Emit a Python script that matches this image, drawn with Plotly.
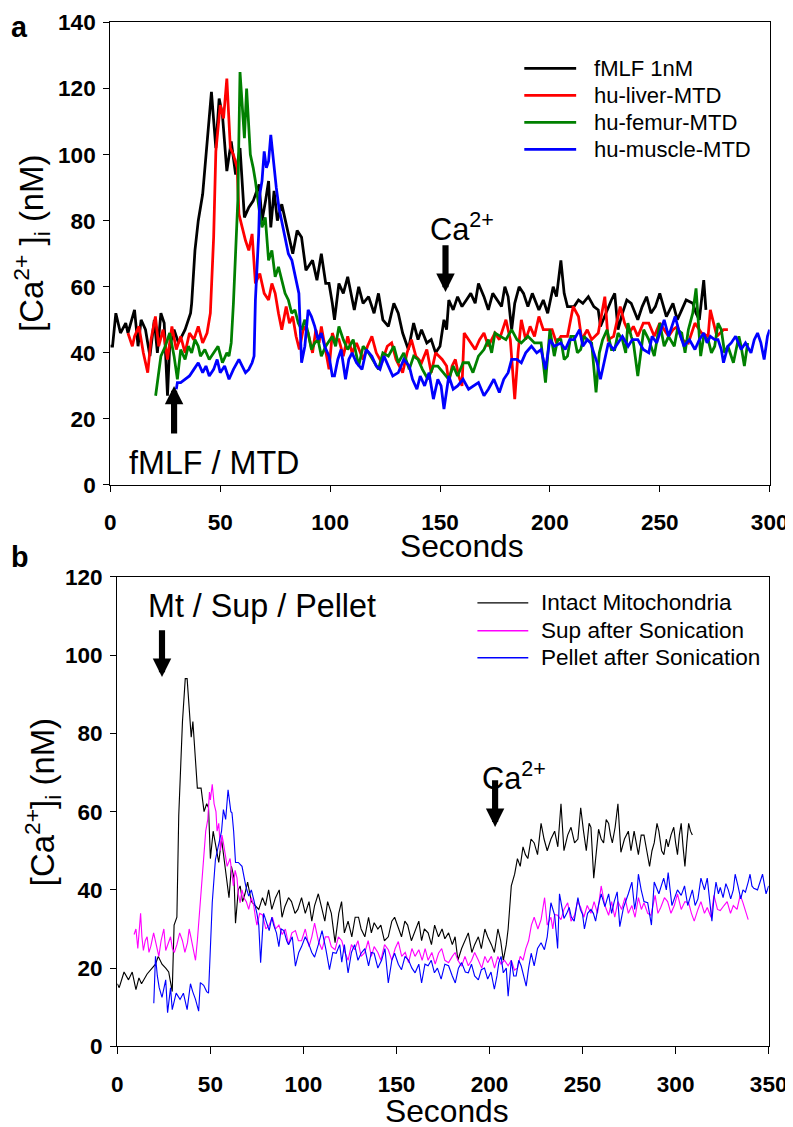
import plotly.graph_objects as go

# Figure size and mapping from target picture pixels to figure pixels
W, H = 820, 1132
AX, BX = 0.972, 11.4
AY, BY = 0.979, 19.5
K = 1 / 0.975  # size compensation for the picture scale
FONT = "Liberation Sans, Arial, sans-serif"

def px(s):
    return ((s - BX) / AX) / W

def py(s):
    return 1 - ((s - BY) / AY) / H

# ---------------- Panel a data (seconds, nM) ----------------
fmlf_t = [0, 1, 2.5, 4.6, 7, 8, 11, 12.6, 14, 16, 18, 20, 21.4, 23, 24.5, 26, 27, 29, 31, 34, 36.5, 37, 38.5, 40, 42, 44, 46, 48, 49.5, 51, 53, 55, 57, 59, 61, 63, 65, 67.7, 69, 70.6, 72, 73, 74.5, 76, 78, 79, 81, 83, 85, 87, 89, 92, 94, 96, 98, 99.5, 101, 102, 104, 106, 108, 111, 113, 115, 117.5, 120, 122, 124, 126.5, 129, 131, 133, 135.6, 138, 140, 141.6, 144, 146, 148, 150, 151.8, 153, 154, 156, 158, 160, 162, 164, 166, 167.5, 170, 172, 174, 176, 178, 179.5, 181, 182.6, 184, 186, 188, 190, 192, 195, 197, 199, 201.5, 203, 205, 206.5, 208, 211, 213, 215, 217.5, 220, 222, 223, 226, 228, 229.5, 231, 233, 235, 237, 240, 242, 244, 246, 248, 250, 253, 256, 258, 260, 262, 265, 266.5, 268, 270, 271]
fmlf_v = [42, 42, 52, 46, 49, 46, 53, 42, 50, 47, 39, 50, 40, 52, 49, 27, 42, 47, 43, 47, 52, 55, 71, 80, 88, 104, 119, 102, 117, 112, 95, 104, 94, 102, 81, 84, 86, 91, 80, 86, 92, 78, 89, 80, 85, 82, 76, 70, 77, 75, 65, 68, 62, 70, 61, 61, 55, 50, 61, 58, 63, 53, 60, 55, 57, 52, 58, 50, 48, 55, 52, 46, 41, 49, 44, 47, 43, 44, 40, 42, 50, 47, 56, 53, 57, 54, 56, 58, 55, 61, 57, 53, 58, 56, 54, 60, 57, 47, 55, 60, 58, 54, 58, 53, 56, 52, 60, 57, 68, 58, 54, 54, 56, 55, 57, 54, 53, 48, 53, 56, 58, 47, 52, 56, 55, 50, 54, 57, 52, 54, 58, 51, 55, 50, 53, 56, 55, 52, 50, 62, 53]

liver_t = [8, 10, 11, 13, 15, 17, 18.5, 20.5, 22, 24, 26, 28, 30, 32, 34, 36, 38, 40, 42, 44, 45.5, 47, 48, 50, 51.5, 53, 54.6, 56, 57.7, 58.5, 60, 61.5, 63, 64.5, 66, 68, 70, 72, 73.5, 75, 76.5, 78, 80, 81.5, 83, 84.5, 86, 88, 90, 92, 93.5, 95, 96, 97.5, 99.5, 101, 102, 104, 106, 108, 110, 112, 115, 117, 119, 121, 123.5, 126, 128, 130, 133, 135, 137, 139, 141.6, 144, 146, 148, 151, 153, 154, 155.5, 157, 158.5, 160, 161, 163, 166, 168, 170, 172, 175, 177, 180, 182, 184, 185.5, 187, 189, 191, 193, 195, 197, 199, 201, 203, 205, 208, 210.6, 213, 214.5, 217, 219, 222, 225, 226.5, 229, 232, 234, 236, 238, 240, 242.5, 245, 247.5, 250, 252, 254, 256, 258, 260, 263, 266, 269, 272, 273, 276, 279, 281]
liver_v = [46, 42, 45, 48, 40, 34, 44, 51, 42, 47, 38, 48, 41, 45, 40, 46, 44, 48, 43, 46, 52, 75, 101, 115, 111, 123, 102, 100, 96, 82, 78, 74, 71, 76, 61, 64, 58, 56, 61, 58, 52, 47, 54, 49, 51, 45, 41, 48, 46, 40, 47, 43, 48, 42, 35, 46, 44, 44, 39, 45, 40, 43, 38, 42, 45, 40, 37, 42, 43, 38, 34, 40, 44, 39, 37, 41, 34, 40, 38, 36, 31, 36, 38, 33, 30, 46, 44, 41, 44, 46, 42, 46, 44, 50, 44, 26, 40, 50, 44, 48, 45, 51, 47, 47, 47, 43, 45, 45, 54, 51, 44, 47, 44, 46, 57, 44, 45, 54, 49, 46, 48, 45, 49, 49, 45, 49, 47, 45, 47, 48, 44, 43, 49, 46, 45, 53, 45, 47, 47]

femur_t = [20.6, 22, 23, 25, 27, 29, 30.5, 32, 34, 35.5, 37, 38.5, 40, 41, 43, 45, 47, 49, 51, 53, 54, 55, 56, 57, 58, 59, 61, 62, 63.7, 65, 66, 68, 69, 70.5, 72, 73.5, 75, 76.5, 78, 79.5, 81, 82.5, 84, 85.5, 87, 88.5, 90, 91.5, 93, 94.5, 96, 98, 101, 102.5, 104, 106, 108, 110.5, 113, 115, 117.5, 120, 122, 124, 126.5, 129, 131, 133.5, 136, 138, 140, 142, 144.5, 147, 149, 151.5, 154, 156, 158, 160.5, 163, 165, 167.5, 170, 172, 173.5, 175, 177.5, 180, 182.6, 185, 187, 190, 193, 196, 198, 200, 202, 203.5, 205, 206.5, 208, 209.5, 211, 212.5, 214, 215.5, 217, 219, 221, 222.5, 224, 226, 228, 229.5, 231, 233, 234.5, 235.5, 237, 238, 240, 242.7, 245, 247.5, 250, 252, 254, 256.6, 258, 260, 261.5, 263, 265, 266.5, 268.6, 270, 272, 273.5, 275, 276.5, 278, 279.5, 281, 283.5, 286, 287, 288.5, 290]
femur_v = [27, 35, 39, 42, 46, 39, 32, 41, 38, 42, 40, 44, 42, 39, 41, 38, 40, 42, 37, 40, 39, 43, 55, 70, 86, 125, 105, 120, 100, 96, 92, 82, 78, 81, 68, 71, 63, 66, 62, 58, 56, 52, 53, 49, 47, 50, 46, 41, 43, 44, 39, 42, 45, 42, 48, 44, 41, 44, 36, 42, 40, 37, 35, 40, 39, 42, 37, 40, 35, 39, 38, 35, 32, 36, 36, 34, 32, 36, 33, 37, 37, 34, 39, 41, 44, 40, 46, 45, 44, 47, 44, 43, 45, 43, 43, 31, 47, 39, 44, 44, 38, 39, 45, 45, 40, 41, 45, 44, 43, 28, 40, 44, 47, 41, 41, 46, 44, 40, 49, 45, 43, 33, 47, 44, 39, 49, 42, 45, 42, 47, 46, 40, 47, 52, 59.5, 39, 45, 44, 40, 42, 49, 47, 40, 42, 37, 45, 42, 36, 43]

muscle_t = [30, 30.5, 32, 34, 36, 38, 40, 42, 43.5, 45, 47, 48.6, 50, 52, 54, 56, 58.5, 60, 61.5, 63, 64.5, 65.4, 66, 67.5, 68, 69, 70, 71, 72, 73, 74.5, 75.5, 76.7, 78, 79.7, 81, 82.6, 84, 85.8, 87, 88.5, 90, 91.5, 93, 94.5, 96, 97.5, 99.5, 101, 102, 103.5, 105, 107, 108.5, 110, 112, 114.5, 116.5, 119, 121, 122.7, 124.5, 126.5, 128.5, 131, 133.5, 136, 137.5, 139.5, 141, 143, 145, 147, 149, 150.5, 151.8, 154, 156, 158, 160.5, 163, 165, 167.5, 170, 172, 174.5, 177, 179, 181, 182.6, 185, 187, 189, 191.6, 194, 196, 198, 200, 202, 205, 207, 209, 211, 213.5, 215, 217, 218.5, 220, 221.5, 223, 225, 226.6, 229, 231, 233, 235.6, 237.5, 240, 242.5, 245, 246.5, 248.6, 250.5, 252, 254, 255.5, 257, 259, 261, 263.5, 266, 268, 270, 271.5, 273, 275, 276.5, 278, 279, 281, 282.5, 284.5, 287, 289, 291.5, 293, 294.5, 296, 297.5, 299, 300]
muscle_v = [29, 31, 31, 32, 33, 35, 37, 34, 36, 33, 35, 38, 34, 36, 32, 35, 38, 36, 34, 35, 37, 39, 56, 76, 88, 92, 101, 96, 98, 106, 96, 90, 84, 80, 74, 70, 68, 64, 58, 37, 42, 53, 51, 48, 44, 46, 42, 39, 33, 33, 38, 41, 32, 38, 40, 37, 35, 41, 39, 36, 35, 39, 36, 33, 34, 38, 36, 32, 29, 33, 30, 34, 26, 32, 30, 23, 33, 29, 30, 32, 29, 30, 31, 27, 29, 32, 28, 32, 34, 38, 38, 37, 40, 42, 40, 41, 35, 44, 42, 43, 41, 44, 44, 47, 42, 44, 43, 40, 37, 32, 38, 43, 41, 43, 45, 42, 44, 44, 41, 40, 45, 43, 47, 50, 45, 48, 51, 46, 42, 44, 41, 44, 46, 43, 45, 44, 44, 41, 37, 42, 43, 45, 41, 43, 40, 44, 46, 43, 38, 45, 47]

# ---------------- Panel b data (seconds, nM) ----------------
intact_t = [0, 1, 3.6, 6, 8, 10, 11.6, 13, 16, 19, 20.5, 22, 24, 26, 27.6, 29.5, 30.5, 32, 33, 35, 36.5, 37.5, 38.5, 39.7, 40.6, 42, 43, 45, 46.6, 48, 49, 50, 51.5, 53, 54.5, 56, 57, 58.5, 60, 61.3, 62.7, 63.5, 65, 66, 67.3, 68.6, 70, 72, 74, 76, 78, 79.6, 81.3, 83, 85, 87, 88.5, 90, 92, 93.6, 95.5, 97, 99, 101, 103, 104.5, 106, 108, 110, 111.5, 113, 115, 117, 119, 120.5, 122, 124, 126, 127.8, 129.6, 131, 133, 135, 136.5, 138, 140, 141.6, 143.5, 145.6, 147.5, 149, 151, 152.7, 154.5, 156, 158, 160, 162, 163.5, 165, 167, 168.8, 170.5, 172.6, 174.5, 176, 178, 180, 181.5, 183, 185, 186.8, 188.6, 190.5, 192, 194, 195.6, 197.5, 199, 201, 202.6, 204.5, 206, 207.4, 209, 210, 211.7, 213.5, 215, 216.5, 218, 219.3, 220.6, 222.3, 224, 225.8, 227.7, 229.3, 231, 233, 235, 236.7, 238.4, 240, 242, 243.8, 245.7, 247.5, 249, 250.5, 252, 253.5, 254.5, 256, 257.3, 258.6, 260, 261.3, 262.7, 264, 265, 266, 267.5, 269, 270.6, 272.5, 274.6, 276, 277.7, 279, 280, 281.5, 283, 284.5, 286, 287.3, 288.5, 290, 291, 292.5, 293.7, 295, 296, 297.5, 299, 300, 301, 302, 303, 304, 305, 306, 307, 308, 309]
intact_v = [16, 15, 19, 17, 19, 14.5, 17.5, 16, 18.5, 20, 21, 23, 21, 20, 19, 14, 31, 33, 59, 83, 94, 94, 88, 79, 83, 72, 66, 66, 60, 62, 61, 48, 55, 51, 47, 53, 49, 44, 38, 46, 43, 31.5, 40, 41, 37, 39, 42, 37, 36, 35, 38, 36, 40, 35, 38, 40, 33, 35.7, 38, 37, 34, 35, 38, 34, 37, 32, 36, 39, 35, 32, 37, 34, 26.5, 34, 37, 29, 32, 28, 33, 33, 30, 28, 33, 29, 31.6, 30, 31, 27, 28, 32, 33, 30, 28, 32, 31, 27, 29.6, 32, 27, 30, 29, 26, 31, 28, 30, 27.5, 29, 26, 28, 22, 25, 27, 29, 24, 26, 28, 25, 30, 28, 26, 24, 30, 27, 22, 26, 30, 41, 44, 48, 46, 51, 49, 48, 53, 52, 49, 57, 53, 50, 53, 55, 51, 62, 50, 54, 56, 52, 53, 61, 55, 50, 57, 56, 43, 49, 55.5, 53, 52, 58, 57, 54, 52, 56, 62, 49.6, 53, 55, 50, 55, 52, 49, 54, 54, 50, 46, 50, 52, 57, 55, 50, 49, 53, 51, 54, 56, 52, 49, 54, 57, 51, 46, 52, 57, 55, 54]

sup_t = [9, 10, 11, 12.5, 13.2, 14, 15, 16, 17, 18, 19.5, 21, 22.3, 23.5, 25, 26, 27.3, 28.6, 29.6, 30.6, 32, 33.5, 35, 36.3, 37.7, 38.6, 39.5, 40.8, 42, 43, 44.6, 46.5, 47.5, 48.6, 49.5, 50, 51, 52, 53, 53.6, 54.5, 55.4, 56.2, 57, 58, 59, 60.6, 61.5, 62.4, 63.3, 64.3, 65, 66, 67, 68, 69.3, 70.6, 72, 73.3, 74.2, 75, 76.5, 78, 79.8, 81.6, 83.3, 85, 86.8, 88.6, 90.3, 92, 93.8, 95.7, 97.3, 99, 101, 103, 104.5, 106, 108, 110, 111.8, 113.5, 115, 117, 118.8, 120.6, 122.3, 124, 125.8, 127.5, 129.3, 131, 133, 134.8, 136.5, 138, 140, 141.6, 143.6, 145.6, 147.5, 149.3, 151, 152.8, 154.7, 156.5, 158.3, 160, 162, 163.8, 165.4, 167, 169, 170.8, 172.6, 174.3, 176, 178, 180, 181.5, 183, 185, 186.8, 188.6, 190.4, 192, 194, 195.8, 197.5, 199, 201, 202.7, 204.5, 206.2, 208, 210, 211.7, 213.4, 215, 216.5, 218, 219.5, 221, 222.5, 224, 226, 227.7, 229.6, 231, 233, 234, 235, 236.6, 238.4, 240, 242, 243.8, 245.7, 247.3, 249, 250.7, 252.5, 254.5, 256.2, 258, 260, 262, 264, 265.6, 267.3, 269, 271, 272.8, 274.6, 276.5, 278.2, 280, 281.6, 283, 285, 286.7, 289, 290.5, 292, 294, 295.7, 297.5, 299.3, 301, 303, 305, 307, 308.5, 310, 312, 313.6, 315.5, 317, 319, 320.6, 322.5, 324, 326, 327.7, 329.5, 331, 333, 334.7, 336, 337, 338, 339]
sup_v = [28.6, 30, 25, 34, 28, 24.5, 27, 28, 24, 25.6, 29, 26, 23, 27, 30, 24.5, 26, 28, 25, 24, 26, 29, 27, 24, 26.5, 30, 28, 25, 22, 27, 37.5, 49.5, 55, 58, 65, 63, 67, 62, 60, 55, 57, 50, 54, 52, 49, 46, 48, 44, 41, 45, 43, 39, 36.7, 40, 38, 37, 35, 38, 36, 33, 31, 34, 33.6, 30, 31, 33, 30, 31, 28.6, 30, 26, 29, 29.6, 27, 27, 30, 25.5, 28, 31.5, 27, 24.7, 28, 28, 25.5, 24.7, 28, 27, 24, 22, 26, 24.7, 27, 23, 24, 27, 23, 25.5, 24, 22, 26, 24.7, 22, 25, 26.8, 23, 24, 21.4, 25, 23, 24.7, 22, 25, 22, 24, 21, 23.8, 25, 22, 21.4, 23, 24, 22, 20.5, 23, 20.6, 22, 24, 22, 20, 23, 21.4, 23, 20, 23, 21, 22, 20.6, 22, 19.5, 20, 23, 22, 25, 27, 31, 33, 30, 32.4, 38, 31, 33, 30, 33.7, 33.5, 32.4, 35, 36.7, 32, 33.5, 37, 35.5, 33, 36, 34, 37, 34, 41, 36, 33.5, 37, 33, 37, 35, 38, 34, 36, 33, 38, 35, 36.7, 34, 33.5, 38.6, 34, 35.5, 38, 37, 34, 36, 39, 35, 37, 36.7, 34, 32, 35, 37, 34, 35.5, 33, 38.6, 35, 34.7, 36, 37, 34, 36, 35, 38.6, 37, 35.5, 34, 32.4]

pellet_t = [19.6, 20.5, 21.5, 22.5, 24, 26, 27, 28.6, 29.5, 31.6, 33.7, 35.5, 37.5, 39.3, 40.5, 42, 43.7, 44.6, 46.4, 48, 49, 50, 51, 52.7, 54.5, 56, 57, 58.2, 59.5, 61, 61.6, 62.5, 63.5, 65, 67, 68, 69, 70.6, 72, 73.3, 75, 76, 77, 78.6, 80, 81.6, 83, 84, 85.5, 86.8, 88, 89.5, 91, 92, 94, 95.7, 97.5, 99, 101, 103, 104.5, 106, 108, 110, 112, 114, 115.8, 117.6, 119.5, 120.6, 122, 124, 125.8, 127.5, 129.3, 131, 133, 135, 136.5, 138, 140, 142, 143.8, 145.6, 147.5, 149, 151, 152.7, 154.6, 156.5, 158.3, 160, 162, 163.5, 165.3, 167, 168.7, 170.4, 172, 174, 176, 178, 180, 181.6, 183.3, 185, 187, 188.6, 190.3, 192, 194, 195.6, 197.3, 199, 200.8, 202.6, 204, 205, 206.2, 207.4, 209, 210, 211.7, 213, 214.3, 215.7, 217, 218.4, 219.7, 221, 222.4, 224, 225.8, 227.7, 229.5, 231, 233, 235, 236.6, 237.6, 239, 240, 241.5, 242.8, 244, 245.5, 247.5, 248.8, 250, 251, 252.7, 254.5, 255.8, 257, 258.5, 260, 262, 264, 265.6, 267, 268.6, 270, 272, 273.3, 274.6, 276.5, 278, 279, 280, 281.5, 283, 285, 287, 288.5, 290, 291, 292.3, 293.6, 295, 296, 298, 299.5, 301, 303, 304.8, 306.5, 307.7, 309, 310.5, 312, 313.6, 315.5, 317, 318.2, 319.5, 320.6, 321.7, 323, 324, 325.5, 327, 328.3, 329.6, 331, 332, 333.5, 335, 336.2, 337.5, 339, 340, 341, 342, 344, 345.5, 346.7, 348.6, 350]
pellet_v = [11, 23, 18, 15, 12.5, 17, 8.6, 15, 9.4, 13.6, 12, 13.6, 9.4, 16, 14, 12, 9, 16.3, 15.6, 14, 13.6, 25, 36.7, 47.7, 52, 55, 60.5, 58, 65.6, 60, 59.7, 55, 47, 47, 46, 43, 41, 38.4, 40, 37.5, 34, 31, 21.4, 34, 32, 29.6, 33, 31, 29, 25.5, 30, 29.6, 27, 26, 28, 20.5, 24, 25.5, 28, 26, 24, 22.8, 26, 29.6, 25, 19.6, 24, 23.8, 26, 21.5, 26, 18.8, 24, 26, 22, 23.8, 25, 20.6, 24, 23.8, 20, 22, 25, 16.2, 22, 23.8, 21, 19.6, 23, 22, 20, 18.8, 21, 16.2, 21, 20.6, 22, 18.8, 20, 17.2, 21, 20.6, 18, 16.2, 20, 21.4, 19, 18.8, 21, 18, 17, 19.6, 20, 17.2, 19, 14.6, 18, 21.4, 23, 18.8, 20, 12.8, 22, 18, 18, 22, 20.6, 18, 15.4, 20, 23.8, 20.6, 25, 26.5, 24.7, 28, 36.7, 33.5, 25, 39, 35, 32.7, 34, 35.5, 33, 32, 38, 35, 33.7, 30, 34, 35, 34, 32, 36, 39, 35.7, 39, 34, 37, 39.5, 30.6, 35.5, 37, 39, 42, 35, 38, 44, 40, 37, 36.7, 31, 42, 40, 39, 41, 43, 40, 44.4, 36, 38, 40, 38.6, 41, 36, 38, 40, 36, 37.7, 43, 40, 43, 38, 32, 38, 42, 39, 40.6, 38, 41.6, 40, 37.7, 40, 44, 41, 37.7, 40, 39.4, 42, 44, 41, 40.4, 40, 42, 44, 39, 41]

xticks_a = [0, 50, 100, 150, 200, 250, 300]
yticks_a = [0, 20, 40, 60, 80, 100, 120, 140]
xticks_b = [0, 50, 100, 150, 200, 250, 300, 350]
yticks_b = [0, 20, 40, 60, 80, 100, 120]

series_a = [("fMLF 1nM", fmlf_t, fmlf_v, "#000000"),
            ("hu-liver-MTD", liver_t, liver_v, "#FF0000"),
            ("hu-femur-MTD", femur_t, femur_v, "#008000"),
            ("hu-muscle-MTD", muscle_t, muscle_v, "#0000FF")]
series_b = [("Intact Mitochondria", intact_t, intact_v, "#000000"),
            ("Sup after Sonication", sup_t, sup_v, "#FF00FF"),
            ("Pellet after Sonication", pellet_t, pellet_v, "#0000FF")]

fig = go.Figure()
for name, t, v, c in series_a:
    fig.add_trace(go.Scatter(x=t, y=v, mode="lines", name=name, showlegend=False,
                             line=dict(color=c, width=2.7 * K), xaxis="x", yaxis="y"))
for name, t, v, c in series_b:
    fig.add_trace(go.Scatter(x=t, y=v, mode="lines", name=name, showlegend=False,
                             line=dict(color=c, width=1.1 * K), xaxis="x2", yaxis="y2"))

tickfont = dict(family=FONT, size=22 * K, color="black", weight="bold")
axis_common = dict(showline=True, mirror=True, linecolor="black", linewidth=1,
                   ticks="outside", ticklen=6 * K, tickwidth=1, tickcolor="black",
                   showgrid=False, zeroline=False, tickfont=tickfont,
                   ticklabeloverflow="allow")

fig.update_layout(
    width=W, height=H, autosize=False,
    margin=dict(l=0, r=0, t=0, b=0),
    paper_bgcolor="white", plot_bgcolor="white",
    font=dict(family=FONT, color="black"),
    showlegend=False,
    xaxis=dict(domain=[px(108), px(769)], range=[0, 300], tickvals=xticks_a,
               anchor="y", ticklabelstandoff=11, **axis_common),
    yaxis=dict(domain=[py(485), py(22)], range=[0, 140], tickvals=yticks_a,
               anchor="x", ticklabelstandoff=3, **axis_common),
    xaxis2=dict(domain=[px(115), px(768)], range=[0, 350], tickvals=xticks_b,
                anchor="y2", ticklabelstandoff=11, **axis_common),
    yaxis2=dict(domain=[py(1047), py(577)], range=[0, 120], tickvals=yticks_b,
                anchor="x2", ticklabelstandoff=3, **axis_common),
)

ann = []
shapes = []

def text(x, y, s, size, xref="paper", yref="paper", bold=False, angle=0, xanchor="center"):
    ann.append(dict(x=x, y=y, xref=xref, yref=yref, text=s, showarrow=False,
                    textangle=angle, xanchor=xanchor, yanchor="middle",
                    font=dict(family=FONT, size=size * K, color="black",
                              weight="bold" if bold else "normal")))

def arrow(x, y, ay, xref, yref):
    ann.append(dict(x=x, y=y, xref=xref, yref=yref, text="", showarrow=True,
                    ax=0, ay=ay * K, arrowhead=2, arrowsize=0.6, arrowwidth=6 * K,
                    arrowcolor="black"))

# legends (drawn as key lines + labels)
def legend(series, x0, x1, xt, rows, size, lw):
    for (name, _, _, c), yy in zip(series, rows):
        shapes.append(dict(type="line", xref="paper", yref="paper",
                           x0=px(x0), x1=px(x1), y0=py(yy), y1=py(yy),
                           line=dict(color=c, width=lw * K)))
        text(px(xt), py(yy), name, size, xanchor="left")

legend(series_a, 523, 575, 591, [68, 95, 122, 149], 21.5, 2.7)
legend(series_b, 476, 527, 538, [603, 631, 658], 22, 1.4)

# panel labels
text(px(17), py(27), "a", 28, bold=True)
text(px(17), py(557), "b", 28, bold=True)
# axis titles
text(px(461), py(546), "Seconds", 31)
text(px(446), py(1112), "Seconds", 31)
text(px(29), py(243), "[Ca<sup>2+</sup> ]<sub>i</sub> (nM)", 32, angle=-90)
text(px(40), py(803), "[Ca<sup>2+</sup>]<sub>i</sub> (nM)", 32, angle=-90)
# panel a annotations
text(47, 6.7, "fMLF / MTD", 31.5, xref="x", yref="y")
arrow(29, 30, 48, "x", "y")
text(160, 78, "Ca<sup>2+</sup>", 30, xref="x", yref="y")
arrow(152.5, 58.4, -47, "x", "y")
# panel b annotations
text(78, 112.5, "Mt / Sup / Pellet", 31.5, xref="x2", yref="y2")
arrow(24, 94.4, -47, "x2", "y2")
text(213, 69, "Ca<sup>2+</sup>", 30, xref="x2", yref="y2")
arrow(203, 56.1, -47, "x2", "y2")

fig.update_layout(annotations=ann, shapes=shapes)
fig.write_html("out.html")
